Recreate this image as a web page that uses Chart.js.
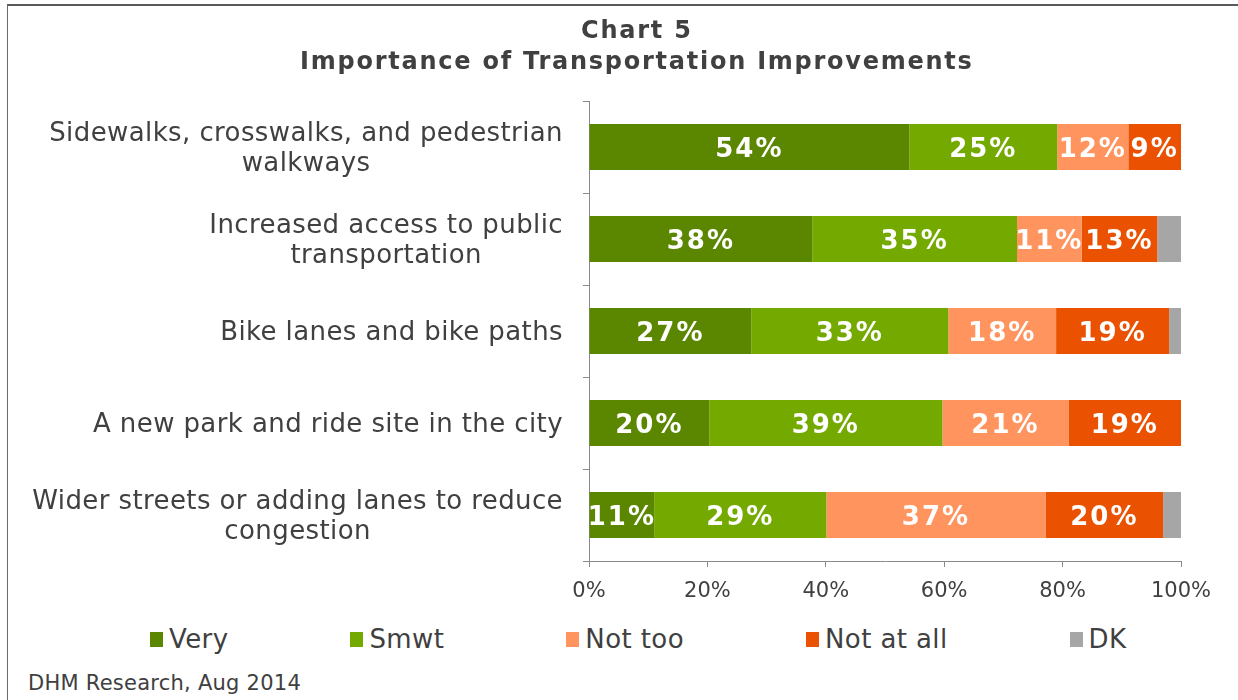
<!DOCTYPE html>
<html>
<head>
<meta charset="utf-8">
<script src="https://cdn.jsdelivr.net/npm/chart.js@4.4.0/dist/chart.umd.min.js"></script>
<style>
html,body{margin:0;padding:0;background:#fff;}
body{width:1238px;height:700px;position:relative;overflow:hidden;font-family:"DejaVu Sans",Verdana,sans-serif;color:#404040;}
#frame{position:absolute;left:7px;top:4px;width:1300px;height:800px;border-top:2px solid #595959;border-left:1px solid #6b6b6b;box-sizing:border-box;pointer-events:none;}
#wrap{position:absolute;left:0;top:0;width:1238px;height:620px;}
#title{position:absolute;left:0;top:15px;width:1272px;text-align:center;font-weight:bold;font-size:24px;line-height:31px;letter-spacing:1.75px;padding-left:1.75px;box-sizing:border-box;color:#404040;}
#legend{position:absolute;left:150px;top:626px;display:flex;gap:122px;font-size:26px;line-height:26px;letter-spacing:0.4px;white-space:nowrap;}
.item{display:flex;align-items:flex-start;}
.sw{width:13px;height:15px;margin-top:6px;margin-right:6px;}
#source{position:absolute;left:28px;top:673px;font-size:21px;line-height:21px;letter-spacing:0.25px;white-space:nowrap;}
</style>
</head>
<body>
<div id="wrap"><canvas id="c" width="1238" height="620"></canvas></div>
<div id="title">Chart 5<br>Importance of Transportation Improvements</div>
<div id="legend"></div>
<div id="source">DHM Research, Aug 2014</div>
<div id="frame"></div>
<script>
// ---- data ----
const categories = [
  ['Sidewalks, crosswalks, and pedestrian', 'walkways'],
  ['Increased access to public', 'transportation'],
  ['Bike lanes and bike paths'],
  ['A new park and ride site in the city'],
  ['Wider streets or adding lanes to reduce', 'congestion']
];
const seriesNames = ['Very', 'Smwt', 'Not too', 'Not at all', 'DK'];
const seriesColors = ['#5A8600', '#74AA00', '#FF945E', '#EA5100', '#A6A6A6'];
const very     = [54.1, 37.7, 27.4, 20.3, 11.0];
const smwt     = [25.0, 34.6, 33.3, 39.4, 29.1];
const notToo   = [12.0, 10.9, 18.2, 21.3, 37.0];
const notAtAll = [ 8.9, 12.8, 19.1, 19.0, 19.9];
const dk       = [ 0.0,  4.0,  2.0,  0.0,  3.0];
const seriesLabelled = [true, true, true, true, false];
const xTicks = [0, 20, 40, 60, 80, 100];

const seriesValues = [very, smwt, notToo, notAtAll, dk];

// ---- HTML legend ----
const legendEl = document.getElementById('legend');
seriesNames.forEach((n, i) => {
  const it = document.createElement('div');
  it.className = 'item';
  const sw = document.createElement('span');
  sw.className = 'sw';
  sw.style.background = seriesColors[i];
  const tx = document.createElement('span');
  tx.textContent = n;
  it.appendChild(sw); it.appendChild(tx);
  legendEl.appendChild(it);
});

const FONT = '"DejaVu Sans", Verdana, sans-serif';

const labelPlugin = {
  id: 'labelPlugin',
  afterDatasetsDraw(chart) {
    const ctx = chart.ctx;
    ctx.save();
    ctx.font = 'bold 26px ' + FONT;
    ctx.fillStyle = '#ffffff';
    ctx.textAlign = 'center';
    ctx.textBaseline = 'alphabetic';
    if ('letterSpacing' in ctx) ctx.letterSpacing = '2px';
    chart.data.datasets.forEach((ds, di) => {
      if (!seriesLabelled[di]) return;
      const meta = chart.getDatasetMeta(di);
      meta.data.forEach((el, i) => {
        const v = ds.data[i];
        if (!v) return;
        const p = el.getCenterPoint();
        ctx.fillText(Math.round(v) + '%', p.x, p.y + 10);
      });
    });
    ctx.restore();
  },
  afterDraw(chart) {
    const ctx = chart.ctx;
    const ys = chart.scales.y;
    ctx.save();
    ctx.font = '26px ' + FONT;
    ctx.fillStyle = '#404040';
    ctx.textAlign = 'center';
    ctx.textBaseline = 'alphabetic';
    if ('letterSpacing' in ctx) ctx.letterSpacing = '0.4px';
    const right = ys.right - 6 - 20;
    chart.data.labels.forEach((lab, i) => {
      const lines = Array.isArray(lab) ? lab : [lab];
      const w = Math.max(...lines.map(l => ctx.measureText(l).width));
      const cx = right - w / 2;
      const c = ys.getPixelForValue(i);
      lines.forEach((l, j) => {
        ctx.fillText(l, cx, c + 9 + (j - (lines.length - 1) / 2) * 30);
      });
    });
    ctx.restore();
  }
};

new Chart(document.getElementById('c'), {
  type: 'bar',
  data: {
    labels: categories,
    datasets: seriesNames.map((n, i) => ({
      label: n,
      data: seriesValues[i],
      backgroundColor: seriesColors[i],
      borderWidth: 0
    }))
  },
  options: {
    indexAxis: 'y',
    responsive: false,
    animation: false,
    layout: { padding: { top: 101, left: 0, right: 57, bottom: 0 } },
    datasets: { bar: { categoryPercentage: 1, barPercentage: 0.5 } },
    plugins: {
      legend: { display: false },
      title: { display: false },
      tooltip: { enabled: false }
    },
    scales: {
      x: {
        stacked: true,
        min: 0, max: 100,
        afterBuildTicks: s => { s.ticks = xTicks.map(v => ({ value: v })); },
        afterFit: s => { s.height = 59; },
        grid: { drawOnChartArea: false, drawTicks: true, tickLength: 6, color: '#8a8a8a', lineWidth: 1 },
        border: { color: '#8a8a8a', width: 1 },
        ticks: {
          padding: 12, color: '#404040', autoSkip: false, maxRotation: 0,
          font: { family: FONT, size: 21 },
          callback: v => v + '%'
        }
      },
      y: {
        stacked: true,
        afterFit: s => { s.width = 589; },
        grid: { drawOnChartArea: false, drawTicks: true, tickLength: 6, color: '#8a8a8a', offset: true },
        border: { color: '#8a8a8a', width: 1 },
        ticks: { display: false }
      }
    }
  },
  plugins: [labelPlugin]
});
</script>
</body>
</html>
